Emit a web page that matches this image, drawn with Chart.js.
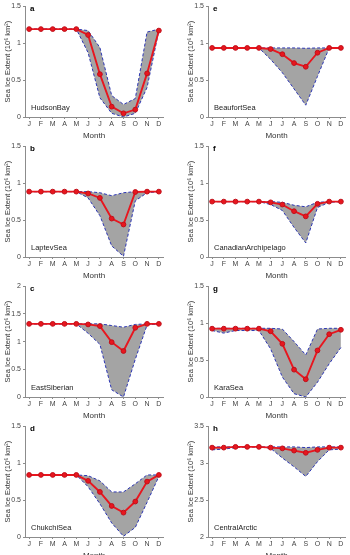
<!DOCTYPE html>
<html>
<head>
<meta charset="utf-8">
<script src="https://cdn.jsdelivr.net/npm/chart.js@4.4.0/dist/chart.umd.min.js"></script>
<style>
  html, body { margin: 0; padding: 0; background: #fff; width: 350px; height: 555px; overflow: hidden; }
  .panel { position: absolute; width: 175px; height: 140px; }
</style>
</head>
<body>
<script>
const months = ['J', 'F', 'M', 'A', 'M', 'J', 'J', 'A', 'S', 'O', 'N', 'D'];

// a - Hudson Bay
const hudsonMean  = [1.19, 1.19, 1.19, 1.19, 1.19, 1.11, 0.58, 0.14, 0.05, 0.10, 0.59, 1.17];
const hudsonUpper = [1.19, 1.19, 1.19, 1.19, 1.19, 1.17, 0.94, 0.29, 0.17, 0.25, 1.15, 1.19];
const hudsonLower = [1.19, 1.19, 1.19, 1.19, 1.19, 0.87, 0.26, 0.05, 0.00, 0.05, 0.40, 1.17];

// b - Laptev Sea
const laptevMean  = [0.885, 0.885, 0.885, 0.885, 0.885, 0.86, 0.80, 0.52, 0.44, 0.88, 0.885, 0.885];
const laptevUpper = [0.885, 0.885, 0.885, 0.885, 0.885, 0.885, 0.87, 0.83, 0.87, 0.885, 0.885, 0.885];
const laptevLower = [0.885, 0.885, 0.885, 0.885, 0.885, 0.80, 0.56, 0.15, 0.01, 0.76, 0.87, 0.885];

// c - East Siberian
const eastSibMean  = [1.32, 1.32, 1.32, 1.32, 1.32, 1.31, 1.28, 0.99, 0.83, 1.25, 1.32, 1.32];
const eastSibUpper = [1.32, 1.32, 1.32, 1.32, 1.32, 1.32, 1.32, 1.29, 1.26, 1.31, 1.32, 1.32];
const eastSibLower = [1.32, 1.32, 1.32, 1.32, 1.32, 1.15, 0.95, 0.13, 0.00, 0.68, 1.30, 1.32];

// d - Chukchi Sea
const chukchiMean  = [0.84, 0.84, 0.84, 0.84, 0.84, 0.76, 0.61, 0.42, 0.33, 0.48, 0.75, 0.84];
const chukchiUpper = [0.84, 0.84, 0.84, 0.84, 0.84, 0.83, 0.76, 0.61, 0.61, 0.72, 0.84, 0.84];
const chukchiLower = [0.84, 0.84, 0.84, 0.84, 0.84, 0.68, 0.45, 0.19, 0.01, 0.13, 0.47, 0.82];

// e - Beaufort Sea
const beaufortMean  = [0.935, 0.935, 0.935, 0.935, 0.935, 0.92, 0.85, 0.73, 0.68, 0.87, 0.935, 0.935];
const beaufortUpper = [0.935, 0.935, 0.935, 0.935, 0.935, 0.935, 0.935, 0.935, 0.93, 0.935, 0.935, 0.935];
const beaufortLower = [0.935, 0.935, 0.935, 0.935, 0.935, 0.78, 0.60, 0.38, 0.16, 0.55, 0.935, 0.935];

// f - Canadian Archipelago
const canadianMean  = [0.75, 0.75, 0.75, 0.75, 0.75, 0.74, 0.71, 0.62, 0.55, 0.72, 0.75, 0.75];
const canadianUpper = [0.75, 0.75, 0.75, 0.75, 0.75, 0.75, 0.74, 0.70, 0.68, 0.74, 0.75, 0.75];
const canadianLower = [0.75, 0.75, 0.75, 0.75, 0.75, 0.71, 0.63, 0.40, 0.19, 0.67, 0.74, 0.75];

// g - Kara Sea
const karaMean  = [0.925, 0.925, 0.925, 0.925, 0.925, 0.89, 0.72, 0.37, 0.24, 0.63, 0.85, 0.91];
const karaUpper = [0.93, 0.93, 0.93, 0.93, 0.93, 0.93, 0.92, 0.75, 0.57, 0.92, 0.93, 0.93];
const karaLower = [0.90, 0.865, 0.90, 0.90, 0.90, 0.65, 0.27, 0.045, 0.00, 0.20, 0.45, 0.67];

// h - Central Arctic
const centralMean  = [3.21, 3.21, 3.22, 3.22, 3.22, 3.21, 3.20, 3.17, 3.14, 3.18, 3.21, 3.21];
const centralUpper = [3.22, 3.22, 3.22, 3.22, 3.22, 3.22, 3.22, 3.22, 3.21, 3.22, 3.22, 3.22];
const centralLower = [3.18, 3.19, 3.21, 3.22, 3.22, 3.20, 3.07, 2.95, 2.82, 3.02, 3.18, 3.19];

const FONT = '"Liberation Sans", Arial, sans-serif';
const AXIS_GRAY = '#8c8c8c';
const TEXT_GRAY = '#444';
const RED = '#e8161e';
const BLUE = '#2c36b4';
const FILL_GRAY = '#a4a4a4';

const panelText = {
  id: 'panelText',
  afterDraw(chart, args, opts) {
    const { ctx, chartArea } = chart;
    ctx.save();
    ctx.fillStyle = '#000';
    ctx.font = `bold 8px ${FONT}`;
    ctx.textBaseline = 'top';
    ctx.fillText(opts.letter, chartArea.left + 5, chartArea.top - 1);
    ctx.fillStyle = '#222';
    ctx.font = `7.5px ${FONT}`;
    ctx.textBaseline = 'bottom';
    ctx.fillText(opts.name, chartArea.left + 6, chartArea.bottom - 5);
    ctx.restore();
  },
};

function toPoints(values) {
  return values.map((v, i) => ({ x: i + 1, y: v }));
}

function makePanel(col, row, letter, name, mean, upper, lower, yMin, yMax) {
  const box = document.createElement('div');
  box.className = 'panel';
  box.style.left = `${col * 175}px`;
  box.style.top = `${row * 140}px`;
  const canvas = document.createElement('canvas');
  canvas.width = 175;
  canvas.height = 140;
  box.appendChild(canvas);
  document.body.appendChild(box);

  new Chart(canvas, {
    type: 'line',
    data: {
      datasets: [
        {
          data: toPoints(mean),
          borderColor: RED,
          borderWidth: 1.9,
          pointRadius: 2.4,
          pointBackgroundColor: RED,
          pointBorderColor: '#c0101a',
          pointBorderWidth: 1,
          fill: false,
          order: 0,
        },
        {
          data: toPoints(upper),
          borderColor: BLUE,
          borderWidth: 1,
          borderDash: [3, 2],
          pointRadius: 0,
          backgroundColor: FILL_GRAY,
          fill: '+1',
          order: 1,
        },
        {
          data: toPoints(lower),
          borderColor: BLUE,
          borderWidth: 1,
          borderDash: [3, 2],
          pointRadius: 0,
          fill: false,
          order: 2,
        },
      ],
    },
    options: {
      responsive: false,
      animation: false,
      devicePixelRatio: 1,
      layout: {
        padding: col === 0
          ? { left: 0, right: 12, top: 5, bottom: 0 }
          : { left: 8, right: 4, top: 5, bottom: 0 },
      },
      plugins: {
        legend: { display: false },
        tooltip: { enabled: false },
        filler: { drawTime: 'beforeDatasetsDraw' },
        panelText: { letter, name },
      },
      scales: {
        x: {
          type: 'linear',
          min: 0.65,
          max: 12.35,
          afterBuildTicks: (scale) => {
            scale.ticks = months.map((_, i) => ({ value: i + 1 }));
          },
          afterFit: (scale) => { scale.height = 23; },
          ticks: {
            autoSkip: false,
            maxRotation: 0,
            padding: 1,
            color: TEXT_GRAY,
            font: { family: FONT, size: 7 },
            callback: (v) => months[Math.round(v) - 1],
          },
          grid: { drawOnChartArea: false, tickLength: 2, color: AXIS_GRAY },
          border: { color: AXIS_GRAY },
          title: {
            display: true,
            text: 'Month',
            color: '#333',
            padding: { top: -1, bottom: 0 },
            font: { family: FONT, size: 8, lineHeight: 1 },
          },
        },
        y: {
          min: yMin,
          max: yMax,
          afterFit: (scale) => { scale.width = 25; },
          ticks: {
            stepSize: 0.5,
            padding: 2,
            color: TEXT_GRAY,
            font: { family: FONT, size: 7 },
            callback: (v) => `${Number(v.toFixed(2))}`,
          },
          grid: { drawOnChartArea: false, tickLength: 2, color: AXIS_GRAY },
          border: { color: AXIS_GRAY },
          title: {
            display: true,
            text: 'Sea Ice Extent (10\u2076 km\u00b2)',
            color: '#333',
            padding: { top: 3, bottom: 0 },
            font: { family: FONT, size: 7.5 },
          },
        },
      },
    },
    plugins: [panelText],
  });
}

makePanel(0, 0, 'a', 'HudsonBay', hudsonMean, hudsonUpper, hudsonLower, 0, 1.5);
makePanel(0, 1, 'b', 'LaptevSea', laptevMean, laptevUpper, laptevLower, 0, 1.5);
makePanel(0, 2, 'c', 'EastSiberian', eastSibMean, eastSibUpper, eastSibLower, 0, 2);
makePanel(0, 3, 'd', 'ChukchiSea', chukchiMean, chukchiUpper, chukchiLower, 0, 1.5);
makePanel(1, 0, 'e', 'BeaufortSea', beaufortMean, beaufortUpper, beaufortLower, 0, 1.5);
makePanel(1, 1, 'f', 'CanadianArchipelago', canadianMean, canadianUpper, canadianLower, 0, 1.5);
makePanel(1, 2, 'g', 'KaraSea', karaMean, karaUpper, karaLower, 0, 1.5);
makePanel(1, 3, 'h', 'CentralArctic', centralMean, centralUpper, centralLower, 2, 3.5);
</script>
</body>
</html>
